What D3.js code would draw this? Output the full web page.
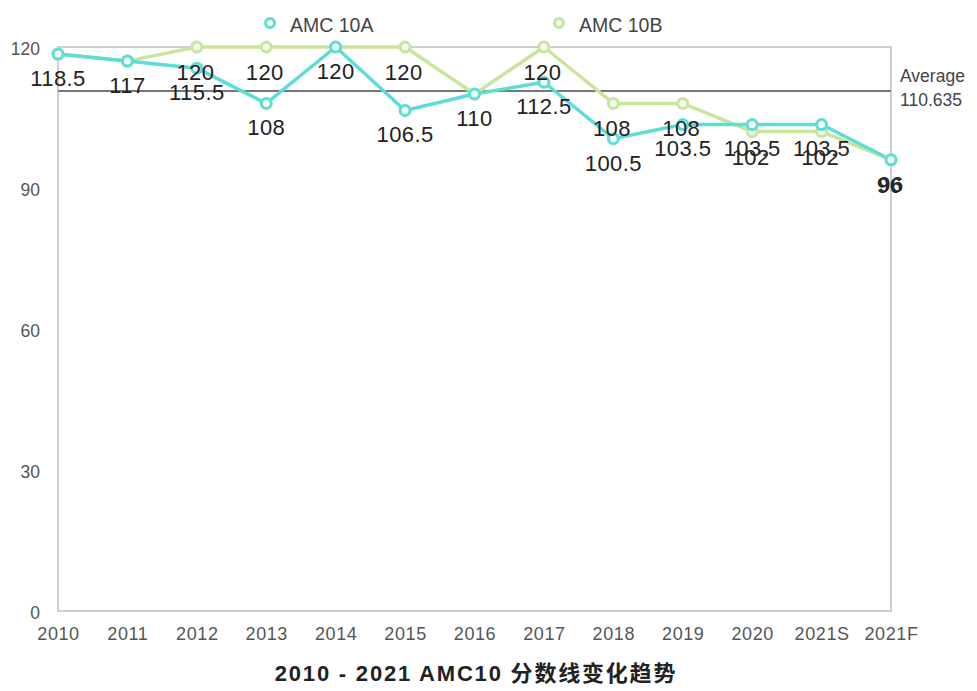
<!DOCTYPE html>
<html>
<head>
<meta charset="utf-8">
<script src="https://d3js.org/d3.v7.min.js"></script>
<style>
  body { margin: 0; background: #fff; }
  text { font-family: "Liberation Sans", Arial, "Noto Sans CJK SC", sans-serif; }
</style>
</head>
<body>
<div id="chart"></div>
<script>
// values
years = ["2010", "2011", "2012", "2013", "2014", "2015", "2016", "2017", "2018", "2019", "2020", "2021S", "2021F"]
amc10a = [118.5, 117, 115.5, 108, 120, 106.5, 110, 112.5, 100.5, 103.5, 103.5, 103.5, 96]
amc10b = [118.5, 117, 120, 120, 120, 120, 110, 120, 108, 108, 102, 102, 96]
yTicks = [0, 30, 60, 90, 120]
average = 110.635
seriesNames = ["AMC 10A", "AMC 10B"]

width = 977
height = 691
cyan = "#5edcd5"
green = "#c9e59c"

svg = d3.select("#chart")
  .append("svg")
  .attr("width", width)
  .attr("height", height)

xScale = d3.scalePoint().domain(years).range([58, 891])
yScale = d3.scaleLinear().domain([0, 120]).range([611, 47])

// frame of the plot area
svg.append("rect")
  .attr("x", xScale.range()[0])
  .attr("y", yScale(120))
  .attr("width", xScale.range()[1] - xScale.range()[0])
  .attr("height", yScale(0) - yScale(120))
  .attr("fill", "none")
  .attr("stroke", "#cfcfcf")
  .attr("stroke-width", 2)

// axes
yAxis = svg.append("g")
  .attr("transform", "translate(58,0)")
  .call(d3.axisLeft(yScale).tickValues(yTicks).tickSize(0).tickPadding(18))
yAxis.select(".domain").remove()
yAxis.selectAll("text")
  .attr("font-size", 17.5)
  .attr("fill", "#555")
  .attr("dy", "0.4em")
  .style("font-family", "'Liberation Sans', Arial, sans-serif")

xAxis = svg.append("g")
  .attr("transform", "translate(0," + yScale(0) + ")")
  .call(d3.axisBottom(xScale).tickSize(0).tickPadding(16))
xAxis.select(".domain").remove()
xAxis.selectAll("text")
  .attr("font-size", 18)
  .attr("letter-spacing", 0.6)
  .attr("fill", "#555")
  .style("font-family", "'Liberation Sans', Arial, sans-serif")

// average line
svg.append("line")
  .attr("x1", xScale.range()[0])
  .attr("x2", xScale.range()[1])
  .attr("y1", yScale(average))
  .attr("y2", yScale(average))
  .attr("stroke", "#777")
  .attr("stroke-width", 2)

avgLabel = svg.append("text")
  .attr("x", 900)
  .attr("y", yScale(average))
  .attr("font-size", 17.5)
  .attr("fill", "#444")
avgLabel.append("tspan").attr("x", 900).attr("dy", "-0.5em").text("Average")
avgLabel.append("tspan").attr("x", 900).attr("dy", "1.35em").text(average)

line = d3.line()
  .x((d, i) => xScale(years[i]))
  .y(d => yScale(d))

function drawSeries(values, color) {
  svg.append("path")
    .datum(values)
    .attr("d", line)
    .attr("fill", "none")
    .attr("stroke", color)
    .attr("stroke-width", 3.5)
    .attr("stroke-linejoin", "round")

  svg.append("g")
    .selectAll("circle")
    .data(values)
    .enter().append("circle")
    .attr("cx", (d, i) => xScale(years[i]))
    .attr("cy", d => yScale(d))
    .attr("r", 5)
    .attr("fill", "#f4fbf6")
    .attr("stroke", color)
    .attr("stroke-width", 3)
}

drawSeries(amc10b, green)
drawSeries(amc10a, cyan)

// value labels under each point; where both series share a value the
// reference shows a single label (except the last, which is doubled)
function drawLabels(values, other, shift) {
  svg.append("g")
    .selectAll("text")
    .data(values.map((v, i) => ({ v: v, i: i })).filter(d => !other || other[d.i] != d.v || d.i == values.length - 1))
    .enter().append("text")
    .attr("x", d => xScale(years[d.i]) + (other ? shift : 0))
    .attr("y", d => yScale(d.v) + 24 + (other ? 1 : 0))
    .attr("dy", "0.36em")
    .attr("text-anchor", "middle")
    .attr("font-size", 22)
    .attr("letter-spacing", 0.4)
    .attr("fill", "#222")
    .text(d => d.v)
}

drawLabels(amc10b, amc10a, -1.5)
drawLabels(amc10a, null, 0)

// legend
legend = svg.append("g")
legendX = [270, 559]
;[cyan, green].forEach(function(c, i) {
  legend.append("circle")
    .attr("cx", legendX[i])
    .attr("cy", 23)
    .attr("r", 4.5)
    .attr("fill", "#f4fbf6")
    .attr("stroke", c)
    .attr("stroke-width", 3)
  legend.append("text")
    .attr("x", legendX[i] + 20)
    .attr("y", 25)
    .attr("dy", "0.35em")
    .attr("font-size", 19.5)
    .attr("fill", "#444")
    .text(seriesNames[i])
})

// title
svg.append("text")
  .attr("x", 476)
  .attr("y", 673)
  .attr("dy", "0.35em")
  .attr("text-anchor", "middle")
  .attr("font-size", 22)
  .attr("font-weight", "bold")
  .attr("letter-spacing", 1.8)
  .attr("fill", "#222")
  .style("font-family", "'Liberation Sans', Arial, 'Noto Sans CJK SC', sans-serif")
  .text("2010 - 2021 AMC10 分数线变化趋势")
</script>
</body>
</html>
